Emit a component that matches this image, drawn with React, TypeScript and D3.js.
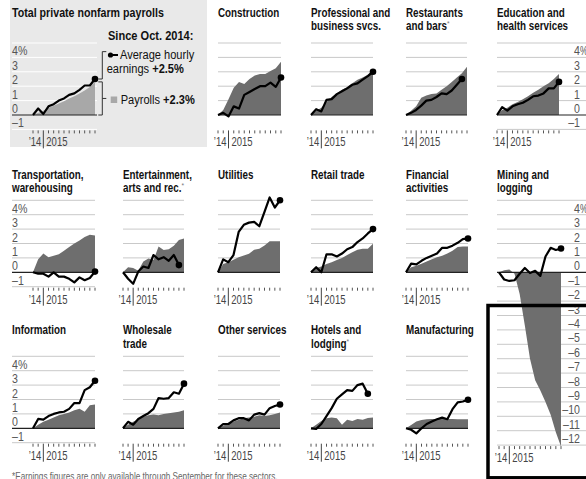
import * as d3 from 'd3';

// Oct 2014 .. Oct 2015, change since Oct. 2014 in %
const months = ['Oct14', 'Nov14', 'Dec14', 'Jan15', 'Feb15', 'Mar15', 'Apr15', 'May15', 'Jun15', 'Jul15', 'Aug15', 'Sep15', 'Oct15'];

const totalPayrolls = [0, 0.15, 0.3, 0.5, 0.65, 0.8, 0.95, 1.15, 1.3, 1.5, 1.7, 1.95, 2.3];
const totalEarnings = [0, 0.45, 0.07, 0.6, 0.75, 1.0, 1.15, 1.4, 1.5, 1.75, 2.05, 2.05, 2.5];

const constructionPayrolls = [0, 0.35, 1.1, 1.9, 2.3, 2.15, 2.5, 2.75, 2.85, 2.85, 3.05, 3.25, 3.7];
const constructionEarnings = [0, 0.15, -0.1, 0.6, 0.45, 1.4, 1.6, 1.8, 2.0, 2.0, 2.25, 1.95, 2.6];

const professionalPayrolls = [0, 0.3, 0.5, 0.9, 1.25, 1.5, 1.75, 1.95, 2.2, 2.45, 2.6, 2.8, 3.2];
const professionalEarnings = [0, 0.4, 0.25, 1.05, 1.1, 1.45, 1.65, 1.85, 2.1, 2.2, 2.45, 2.7, 3.0];

const restaurantsPayrolls = [0, 0.3, 0.6, 1.2, 1.35, 1.45, 1.5, 1.75, 2.0, 2.3, 2.6, 2.9, 3.35];
const restaurantsEarnings = [0, 0.15, 0.35, 0.65, 1.0, 1.05, 1.25, 1.5, 1.45, 1.7, 2.1, 2.5];

const educationPayrolls = [0, 0.35, 0.5, 0.75, 0.9, 1.1, 1.3, 1.55, 1.75, 2.0, 2.2, 2.5, 2.85];
const educationEarnings = [0, 0.55, 0.3, 0.6, 0.75, 0.85, 1.05, 1.3, 1.35, 1.5, 1.85, 1.85, 2.3];

const transportationPayrolls = [0, 0.9, 1.3, 1.05, 1.15, 1.25, 1.5, 1.75, 2.0, 2.2, 2.45, 2.6, 2.55];
const transportationEarnings = [0, -0.1, -0.1, -0.3, 0, -0.3, -0.3, -0.45, -0.7, -0.35, -0.55, -0.4, 0.05];

const entertainmentPayrolls = [0, 0.35, 0.3, 0.1, 0.75, 0.95, 0.85, 1.8, 1.55, 1.6, 1.85, 2.25, 2.35];
const entertainmentEarnings = [0, -0.45, -0.8, 0.05, 0.4, 0.3, 1.2, 0.9, 1.05, 0.8, 1.2, 0.5];

const utilitiesPayrolls = [0, 0.58, 0.7, 0.88, 1.05, 1.16, 1.28, 1.56, 1.63, 1.86, 2.16, 2.16, 2.16];
const utilitiesEarnings = [0, 0.9, 0.7, 1.2, 2.8, 3.3, 3.45, 3.5, 3.2, 4.2, 5.2, 4.5, 5.0];

const retailPayrolls = [0, 0.3, 0.4, 0.58, 0.7, 0.86, 1.0, 1.2, 1.4, 1.56, 1.63, 1.63, 1.98];
const retailEarnings = [0, 0.35, 0, 1.25, 1.25, 1.1, 1.3, 1.6, 1.75, 2.1, 2.35, 2.7, 3.0];

const financialPayrolls = [0, 0.35, 0.45, 0.6, 0.75, 0.9, 1.05, 1.15, 1.3, 1.5, 1.75, 1.8, 1.8];
const financialEarnings = [0, 0.6, 0.55, 0.8, 1.0, 1.15, 1.3, 1.7, 1.7, 1.85, 2.05, 2.3, 2.35];

const miningPayrolls = [0, 0.15, 0.2, -0.1, -1.5, -3.7, -6.0, -7.5, -8.2, -9.0, -9.9, -11.1, -12.1];
const miningEarnings = [0, -0.5, -0.6, -0.55, -0.1, 0.3, -0.05, 0.1, -0.25, 1.1, 1.7, 1.55, 1.65];

const informationPayrolls = [0, 0.25, 0.45, 0.6, 0.75, 0.9, 1.0, 1.1, 1.25, 1.35, 1.15, 1.6, 1.65];
const informationEarnings = [0, 0.65, 0.6, 0.85, 1.0, 1.1, 1.15, 1.35, 1.75, 1.75, 2.65, 2.85, 3.3];

const wholesalePayrolls = [0, 0.25, 0.45, 0.6, 0.8, 0.9, 0.95, 0.9, 1.0, 1.05, 1.1, 1.15, 1.25];
const wholesaleEarnings = [0, 0.45, 0.25, 0.65, 0.85, 1.05, 1.35, 2.1, 2.05, 2.1, 2.5, 2.4, 3.1];

const otherPayrolls = [0, 0.2, 0.3, 0.45, 0.6, 0.7, 0.75, 0.8, 0.9, 0.85, 0.9, 1.0, 1.1];
const otherEarnings = [0, 0.3, 0.3, 0.55, 0.7, 0.7, 0.55, 0.95, 1.05, 0.95, 1.4, 1.55, 1.65];

const hotelsPayrolls = [0, 0.25, 0.5, 0.7, 0.75, 0.7, 0.25, 0.6, 0.5, 0.65, 0.6, 0.72, 0.75];
const hotelsEarnings = [0, -0.05, 0.3, 0.85, 1.4, 2.05, 2.35, 2.65, 2.6, 3.0, 3.1, 2.4];

const manufacturingPayrolls = [0, 0.23, 0.47, 0.58, 0.63, 0.65, 0.65, 0.65, 0.65, 0.65, 0.63, 0.63, 0.63];
const manufacturingEarnings = [0, -0.1, -0.35, 0, 0.3, 0.47, 0.63, 0.74, 0.63, 1.33, 1.8, 1.86, 1.98];

const yTicks = [-1, 0, 1, 2, 3, 4, 5];
const miningTicks = [-12, -11, -10, -9, -8, -7, -6, -5, -4, -3, -2, -1, 0, 1, 2, 3, 4, 5];

const FONT = "'Liberation Sans', Arial, sans-serif";
const SX = 0.82; // narrow the face horizontally
const UNIT = 14.4;
const DIVIDER = 'Dec14';

type Panel = {
  title: string[];
  star?: boolean;
  payrolls: number[];
  earnings: number[];
  x0: number; x1: number; gx0: number; gx1: number;
  zero: number; titleY: number;
  ticks?: number[];
  labels?: 'left' | 'right';
  total?: boolean;
};

const R1 = { zero: 115, titleY: 16.5 };
const R2 = { zero: 272.3, titleY: 178.5 };
const R3 = { zero: 428.3, titleY: 334 };

const panels: Panel[] = [
  { title: ['Total private nonfarm payrolls'], payrolls: totalPayrolls, earnings: totalEarnings, x0: 33, x1: 95, gx0: 12, gx1: 97, ...R1, labels: 'left', total: true },
  { title: ['Construction'], payrolls: constructionPayrolls, earnings: constructionEarnings, x0: 218, x1: 281, gx0: 218, gx1: 281, ...R1 },
  { title: ['Professional and', 'business svcs.'], payrolls: professionalPayrolls, earnings: professionalEarnings, x0: 311, x1: 373, gx0: 311, gx1: 373, ...R1 },
  { title: ['Restaurants', 'and bars'], star: true, payrolls: restaurantsPayrolls, earnings: restaurantsEarnings, x0: 406, x1: 467, gx0: 406, gx1: 467, ...R1 },
  { title: ['Education and', 'health services'], payrolls: educationPayrolls, earnings: educationEarnings, x0: 497, x1: 559, gx0: 497, gx1: 586, ...R1, labels: 'right' },

  { title: ['Transportation,', 'warehousing'], payrolls: transportationPayrolls, earnings: transportationEarnings, x0: 33, x1: 95, gx0: 12, gx1: 95, ...R2, labels: 'left' },
  { title: ['Entertainment,', 'arts and rec.'], star: true, payrolls: entertainmentPayrolls, earnings: entertainmentEarnings, x0: 123, x1: 184, gx0: 123, gx1: 184, ...R2 },
  { title: ['Utilities'], payrolls: utilitiesPayrolls, earnings: utilitiesEarnings, x0: 218, x1: 280, gx0: 218, gx1: 280, ...R2 },
  { title: ['Retail trade'], payrolls: retailPayrolls, earnings: retailEarnings, x0: 311, x1: 373, gx0: 311, gx1: 373, ...R2 },
  { title: ['Financial', 'activities'], payrolls: financialPayrolls, earnings: financialEarnings, x0: 406, x1: 468, gx0: 406, gx1: 468, ...R2 },
  { title: ['Mining and', 'logging'], payrolls: miningPayrolls, earnings: miningEarnings, x0: 499, x1: 561, gx0: 497, gx1: 586, ...R2, labels: 'right', ticks: miningTicks },

  { title: ['Information'], payrolls: informationPayrolls, earnings: informationEarnings, x0: 33, x1: 95, gx0: 12, gx1: 95, ...R3, labels: 'left' },
  { title: ['Wholesale', 'trade'], payrolls: wholesalePayrolls, earnings: wholesaleEarnings, x0: 123, x1: 184, gx0: 123, gx1: 184, ...R3 },
  { title: ['Other services'], payrolls: otherPayrolls, earnings: otherEarnings, x0: 218, x1: 280, gx0: 218, gx1: 280, ...R3 },
  { title: ['Hotels and', 'lodging'], star: true, payrolls: hotelsPayrolls, earnings: hotelsEarnings, x0: 311, x1: 373, gx0: 311, gx1: 373, ...R3 },
  { title: ['Manufacturing'], payrolls: manufacturingPayrolls, earnings: manufacturingEarnings, x0: 406, x1: 468, gx0: 406, gx1: 468, ...R3 },
];

const fmt = (v: number) => (v < 0 ? '\u2013' + Math.abs(v) : String(v));

// text squeezed to look like the narrow newspaper face
function T({ x, y, size, bold, anchor, fill = '#111', sx = SX, children }: any) {
  return (
    <text
      transform={`translate(${x},${y}) scale(${sx},1)`}
      fontSize={size}
      fontWeight={bold ? 'bold' : 'normal'}
      textAnchor={anchor}
      fill={fill}
    >
      {children}
    </text>
  );
}

function SmallChart({ p }: { p: Panel }) {
  const ticks = p.ticks ?? yTicks;
  const yMin = d3.min(ticks)!;
  const yMax = d3.max(ticks)!;
  const x = d3.scalePoint<string>().domain(months).range([p.x0, p.x1]);
  const y = d3.scaleLinear().domain([yMin, yMax]).range([p.zero - yMin * UNIT, p.zero - yMax * UNIT]);
  const px = (_: number, i: number) => x(months[i])!;

  const area = d3.area<number>().x(px).y0(y(0)).y1((d) => y(d));
  const line = d3.line<number>().x(px).y((d) => y(d));
  const last = p.earnings.length - 1;
  const axisY = y(yMin);
  const divX = x(DIVIDER)!;
  const grid = ticks.filter((v) => v !== 0 && (p.labels || v > 0));

  return (
    <g>
      {p.title.map((t, i) => (
        <T key={t} x={p.gx0} y={p.titleY + i * 13.8} size={p.total ? 13 : 12} bold>
          {t}
          {p.star && i === p.title.length - 1 && (
            <tspan fontSize={8} dy={-4} fill="#777" fontWeight="normal">*</tspan>
          )}
        </T>
      ))}
      {grid.map((v) => (
        <line key={v} x1={p.gx0} x2={p.gx1} y1={y(v)} y2={y(v)} stroke={p.total ? '#fff' : '#c9c9c9'} strokeWidth={1} />
      ))}
      <path d={area(p.payrolls)!} fill={p.total ? '#a8a8a8' : '#6e6e6e'} />
      <line x1={p.gx0} x2={p.gx1} y1={y(0)} y2={y(0)} stroke="#222" strokeWidth={1.2} />
      <path d={line(p.earnings)!} fill="none" stroke="#000" strokeWidth={2.2} strokeLinejoin="round" />
      <circle cx={px(0, last)} cy={y(p.earnings[last])} r={3.3} fill="#000" />

      {p.labels === 'left' &&
        ticks.filter((v) => v < 5).map((v) => (
          <T key={v} x={p.gx0} y={y(v) - 2} size={12.5} sx={0.85} fill="#555">
            {v === 4 ? '4%' : fmt(v)}
          </T>
        ))}
      {p.labels === 'right' &&
        ticks.filter((v) => v < 5).map((v) => (
          <g key={v}>
            <T x={580} y={y(v) - 2} size={12.5} sx={0.85} fill="#555" anchor="end">{fmt(v)}</T>
            {v === 4 && <T x={580} y={y(v) - 2} size={12.5} sx={0.7} fill="#555">%</T>}
          </g>
        ))}

      {months.map((m) =>
        m === DIVIDER ? (
          <line key={m} x1={divX} x2={divX} y1={axisY + 1} y2={axisY + 19} stroke="#444" strokeWidth={1} />
        ) : (
          <line key={m} x1={x(m)} x2={x(m)} y1={axisY + 1} y2={axisY + 4} stroke="#555" strokeWidth={1} />
        )
      )}
      <T x={divX - 2} y={axisY + 17} size={12.5} sx={0.76} fill="#444" anchor="end">{'\u201914'}</T>
      <T x={divX + 3} y={axisY + 17} size={12.5} sx={0.76} fill="#444">2015</T>
    </g>
  );
}

function Legend({ p }: { p: Panel }) {
  const y = d3.scaleLinear().domain([0, 1]).range([p.zero, p.zero - UNIT]);
  const earnEnd = y(totalEarnings[totalEarnings.length - 1]);
  const payEnd = y(totalPayrolls[totalPayrolls.length - 1]);
  const bx = 102.3;
  return (
    <g>
      <T x={108} y={40} size={13.5} bold>Since Oct. 2014:</T>
      <path d={`M${bx + 4},${y(4.4)}H${bx}V${earnEnd}H${bx - 4}`} fill="none" stroke="#333" strokeWidth={1} />
      <path d={`M${bx - 4},${payEnd}H${bx}V${y(0)}H${bx - 4}M${bx},${(payEnd + y(0)) / 2}H${bx + 4}`} fill="none" stroke="#333" strokeWidth={1} />
      <line x1={110.5} x2={118} y1={55} y2={55} stroke="#000" strokeWidth={2} />
      <circle cx={110.5} cy={55} r={2.6} fill="#000" />
      <T x={120} y={59} size={13.5}>Average hourly</T>
      <T x={106.7} y={73} size={13.5}>
        earnings <tspan fontWeight="bold">+2.5%</tspan>
      </T>
      <rect x={110.7} y={96.5} width={6.5} height={6.5} fill="#a8a8a8" />
      <T x={120.7} y={104} size={13.5}>
        Payrolls <tspan fontWeight="bold">+2.3%</tspan>
      </T>
    </g>
  );
}

export default function App() {
  return (
    <svg width={586} height={479} style={{ position: 'absolute', left: 0, top: 0, background: '#fff' }} fontFamily={FONT}>
      <rect x={10} y={0} width={197} height={147} fill="#e9e9e9" />
      {panels.map((p) => (
        <SmallChart key={p.title.join(' ')} p={p} />
      ))}
      <Legend p={panels[0]} />
      <rect x={488} y={305.5} width={110} height={172.3} fill="none" stroke="#000" strokeWidth={3.5} />
      <T x={12} y={480} size={10} fill="#666">
        *Earnings figures are only available through September for these sectors.
      </T>
    </svg>
  );
}
